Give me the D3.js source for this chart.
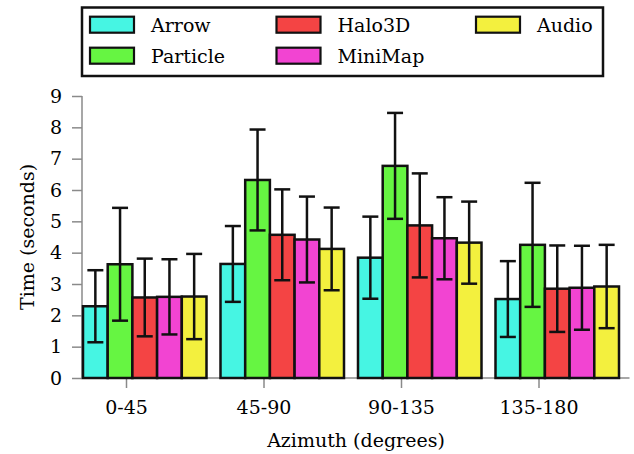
<!DOCTYPE html>
<html>
<head>
<meta charset="utf-8">
<script src="https://cdn.jsdelivr.net/npm/d3@7"></script>
<style>
  body { margin: 0; background: #fff; }
  svg text { font-family: "DejaVu Serif", serif; fill: #000; }
</style>
</head>
<body>
<svg id="chart"></svg>
<script>
// Azimuth bins and techniques
const categories = ['0-45', '45-90', '90-135', '135-180'];
const techniques = ['Arrow', 'Particle', 'Halo3D', 'MiniMap', 'Audio'];

// Mean completion time (seconds) per bin, and error bar half-length
const arrowTime = [2.29, 3.64, 3.84, 2.52];
const arrowErr = [1.15, 1.21, 1.31, 1.21];
const particleTime = [3.63, 6.32, 6.77, 4.25];
const particleErr = [1.80, 1.61, 1.69, 1.98];
const halo3dTime = [2.57, 4.57, 4.87, 2.85];
const halo3dErr = [1.24, 1.45, 1.66, 1.38];
const miniMapTime = [2.59, 4.42, 4.46, 2.88];
const miniMapErr = [1.20, 1.37, 1.31, 1.34];
const audioTime = [2.60, 4.12, 4.32, 2.92];
const audioErr = [1.36, 1.32, 1.31, 1.33];

const yTicks = [0, 1, 2, 3, 4, 5, 6, 7, 8, 9];

const colors = ['#46f5e3', '#66f542', '#f44444', '#f244d2', '#f3f03e'];

class BarChart {

  constructor(_config, _data) {
    this.config = {
      parentElement: _config.parentElement,
      containerWidth: _config.containerWidth || 634,
      containerHeight: _config.containerHeight || 454,
      margin: { top: 96, bottom: 76, right: 4, left: 82 }
    }
    this.data = _data;
    this.initVis();
  }

  initVis() {
    let vis = this;
    let font_size = 19;

    vis.width = vis.config.containerWidth - vis.config.margin.left - vis.config.margin.right;
    vis.height = vis.config.containerHeight - vis.config.margin.top - vis.config.margin.bottom;

    vis.svg = d3.select('#' + vis.config.parentElement)
        .attr('width', vis.config.containerWidth)
        .attr('height', vis.config.containerHeight);

    vis.chart = vis.svg.append('g')
        .attr('transform', `translate(${vis.config.margin.left},${vis.config.margin.top})`);

    vis.yScale = d3.scaleLinear()
        .domain([0, 9])
        .range([vis.height, 0]);

    // tick positions for the bins (pgfplots shifts the bars off the tick)
    vis.xScale = d3.scalePoint()
        .domain(categories)
        .range([44, 456.5]);

    vis.xInner = d3.scaleBand()
        .domain(techniques)
        .range([-43, 80.5]);

    // Axes
    vis.yAxis = d3.axisLeft(vis.yScale).tickValues(yTicks).tickSize(10).tickPadding(10);
    vis.xAxis = d3.axisBottom(vis.xScale).tickSize(10).tickPadding(13);

    vis.yAxisG = vis.chart.append('g').call(vis.yAxis);
    vis.xAxisG = vis.chart.append('g')
        .attr('transform', `translate(0,${vis.height})`)
        .call(vis.xAxis);

    vis.chart.selectAll('.domain').remove();
    vis.chart.selectAll('.tick line').attr('stroke', '#8a8a8a').attr('stroke-width', 1.5);
    vis.chart.selectAll('.tick text').attr('font-size', font_size).attr('font-family', '"DejaVu Serif", serif');

    vis.chart.append('line')
        .attr('x1', 0).attr('x2', 0)
        .attr('y1', 0).attr('y2', vis.height)
        .attr('stroke', '#8a8a8a').attr('stroke-width', 1.5);
    vis.chart.append('line')
        .attr('x1', 0).attr('x2', vis.width - 0.5)
        .attr('y1', vis.height).attr('y2', vis.height)
        .attr('stroke', '#8a8a8a').attr('stroke-width', 1.5);

    // Axis labels
    vis.svg.append('text')
        .attr('transform', `translate(34,${vis.config.margin.top + vis.height / 2}) rotate(-90)`)
        .attr('text-anchor', 'middle')
        .attr('font-size', font_size)
        .text('Time (seconds)');

    vis.svg.append('text')
        .attr('x', vis.config.margin.left + vis.width / 2)
        .attr('y', 446.5)
        .attr('text-anchor', 'middle')
        .attr('font-size', font_size)
        .text('Azimuth (degrees)');

    vis.renderVis();
    vis.renderLegend(font_size);
  }

  renderVis() {
    let vis = this;

    let groups = vis.chart.selectAll('.group')
      .data(categories)
      .join('g')
        .attr('class', 'group')
        .attr('transform', d => `translate(${vis.xScale(d)},0)`);

    let bars = groups.selectAll('.bar')
      .data((c, i) => vis.data.map(s => ({ name: s.name, color: s.color, value: s.time[i], err: s.err[i] })))
      .join('g')
        .attr('class', 'bar');

    bars.append('rect')
        .attr('x', d => vis.xInner(d.name))
        .attr('y', d => vis.yScale(d.value))
        .attr('width', vis.xInner.bandwidth())
        .attr('height', d => vis.height - vis.yScale(d.value))
        .attr('fill', d => d.color)
        .attr('stroke', '#111')
        .attr('stroke-width', 2.5);

    // Error bars
    let cx = d => vis.xInner(d.name) + vis.xInner.bandwidth() / 2;
    bars.append('line')
        .attr('x1', cx).attr('x2', cx)
        .attr('y1', d => vis.yScale(d.value + d.err))
        .attr('y2', d => vis.yScale(d.value - d.err))
        .attr('stroke', '#111').attr('stroke-width', 2.5);
    [1, -1].forEach(sign => {
      bars.append('line')
          .attr('x1', d => cx(d) - 8).attr('x2', d => cx(d) + 8)
          .attr('y1', d => vis.yScale(d.value + sign * d.err))
          .attr('y2', d => vis.yScale(d.value + sign * d.err))
          .attr('stroke', '#111').attr('stroke-width', 2.5);
    });
  }

  renderLegend(font_size) {
    let vis = this;
    let colX = [90, 276.5, 476];
    let rowY = [16.7, 47.7];

    let legend = vis.svg.append('g');
    legend.append('rect')
        .attr('x', 82).attr('y', 7.5)
        .attr('width', 521).attr('height', 68.5)
        .attr('fill', '#fff')
        .attr('stroke', '#111')
        .attr('stroke-width', 2.5);

    // entries fill down the columns, two rows each
    let items = legend.selectAll('.item')
      .data(vis.data)
      .join('g')
        .attr('class', 'item')
        .attr('transform', (d, i) => `translate(${colX[Math.floor(i / 2)]},${rowY[i % 2]})`);

    items.append('rect')
        .attr('width', 44).attr('height', 16)
        .attr('fill', d => d.color)
        .attr('stroke', '#111')
        .attr('stroke-width', 2.2);

    items.append('text')
        .attr('x', 61).attr('y', 15)
        .attr('font-size', font_size)
        .text(d => d.name);
  }
}

const series = [
  { name: 'Arrow', time: arrowTime, err: arrowErr, color: colors[0] },
  { name: 'Particle', time: particleTime, err: particleErr, color: colors[1] },
  { name: 'Halo3D', time: halo3dTime, err: halo3dErr, color: colors[2] },
  { name: 'MiniMap', time: miniMapTime, err: miniMapErr, color: colors[3] },
  { name: 'Audio', time: audioTime, err: audioErr, color: colors[4] }
];

new BarChart({ parentElement: 'chart' }, series);
</script>
</body>
</html>
